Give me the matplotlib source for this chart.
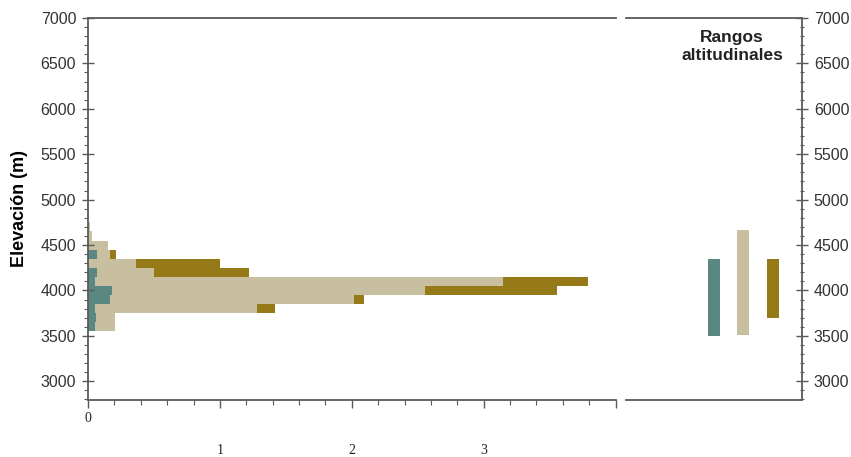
import matplotlib
matplotlib.use('Agg')
import matplotlib.pyplot as plt
from matplotlib.ticker import MultipleLocator

plt.rcParams['font.family'] = ['Liberation Sans', 'DejaVu Sans']

# elevation bins (center, 100 m wide)
elev = [3600, 3700, 3800, 3900, 4000, 4100, 4200, 4300, 4400, 4500, 4600, 4700]
teal = [0.055, 0.06, 0.05, 0.167, 0.18, 0.055, 0.068, 0.0, 0.07, 0.0, 0.0, 0.0]
beige = [0.15, 0.145, 1.228, 1.85, 2.373, 3.095, 0.432, 0.364, 0.10, 0.15, 0.03, 0.015]
olive = [0.0, 0.0, 0.14, 0.076, 1.0, 0.64, 0.72, 0.64, 0.04, 0.0, 0.0, 0.0]

# altitudinal ranges (low, high)
rangos = [(3495, 4350), (3508, 4662), (3700, 4342)]

xticks = [0, 1, 2, 3]
yticks = [3000, 3500, 4000, 4500, 5000, 5500, 6000, 6500, 7000]

c_teal = '#5b8783'
c_beige = '#c8bea0'
c_olive = '#957a17'
c_axis = '#5a5a5a'

fig = plt.figure(figsize=(8.51, 4.57), dpi=100)
ax = fig.add_axes([88/851, 1 - 399.5/457, (615.5-88)/851, (399.5-18)/457])
ax2 = fig.add_axes([626/851, 1 - 399.5/457, (802-626)/851, (399.5-18)/457])

left2 = [t + b for t, b in zip(teal, beige)]
ax.barh(elev, teal, height=100, color=c_teal, linewidth=0)
ax.barh(elev, beige, height=100, left=teal, color=c_beige, linewidth=0)
ax.barh(elev, olive, height=100, left=left2, color=c_olive, linewidth=0)

ax.set_xlim(0, 4)
ax.set_ylim(2800, 7000)
ax.set_yticks(yticks)
ax.yaxis.set_minor_locator(MultipleLocator(100))
ax.set_xticks([0, 1, 2, 3, 4])
ax.set_xticklabels([])
ax.xaxis.set_minor_locator(MultipleLocator(0.2))
for s in ['right']:
    ax.spines[s].set_visible(False)
for s in ['left', 'top', 'bottom']:
    ax.spines[s].set_color(c_axis)
    ax.spines[s].set_linewidth(1.3)
ax.tick_params(axis='y', which='major', direction='inout', length=9, width=1,
               color=c_axis, labelsize=11.5, labelcolor='#333333', pad=4)
ax.tick_params(axis='y', which='minor', direction='out', length=3, width=0.8, color=c_axis)
ax.tick_params(axis='x', which='major', direction='out', length=6, width=1, color=c_axis)
ax.tick_params(axis='x', which='minor', direction='out', length=3.5, width=0.8, color=c_axis)
ax.set_ylabel('Elevación (m)', fontsize=13, fontweight='bold', labelpad=9)

# x labels drawn at two different offsets as in the original
for v in xticks:
    off = -13.5 if v == 0 else -36.5
    ax.annotate(str(v), xy=(v, 0), xycoords=('data', 'axes fraction'),
                xytext=(0, off), textcoords='offset points', ha='center', va='center',
                family='Liberation Serif', fontsize=10, color='#222222')

# right panel: ranges
for i, (lo, hi) in enumerate(rangos):
    ax2.bar(3 + i, hi - lo, bottom=lo, width=0.42,
            color=[c_teal, c_beige, c_olive][i], linewidth=0)
ax2.set_xlim(0, 6)
ax2.set_ylim(2800, 7000)
ax2.set_xticks([])
ax2.set_yticks(yticks)
ax2.yaxis.set_minor_locator(MultipleLocator(100))
ax2.yaxis.tick_right()
ax2.spines['left'].set_visible(False)
for s in ['right', 'top', 'bottom']:
    ax2.spines[s].set_color(c_axis)
    ax2.spines[s].set_linewidth(1.3)
ax2.tick_params(axis='y', which='major', direction='inout', length=9, width=1,
                color=c_axis, labelsize=11.5, labelcolor='#333333', pad=4)
ax2.tick_params(axis='y', which='minor', direction='inout', length=3, width=0.8, color=c_axis)
ax2.text(0.602, 0.925, 'Rangos\naltitudinales', transform=ax2.transAxes, ha='center',
         va='center', fontsize=12.5, fontweight='bold', color='#222222', linespacing=1.25)

fig.savefig('out.png', dpi=100)
